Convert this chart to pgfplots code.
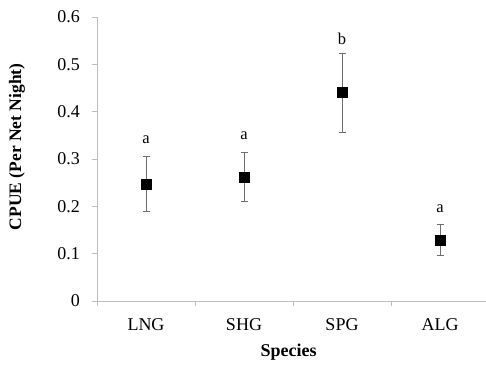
\documentclass[border=0pt]{standalone}
\usepackage{pgfplots}
\pgfplotsset{compat=1.18}
\usepackage{fontspec}
\setmainfont{Liberation Serif}
\definecolor{axgray}{RGB}{190,190,190}
\definecolor{errgray}{RGB}{110,110,110}
\begin{document}
\fontsize{18}{21}\selectfont
\begin{tikzpicture}
\begin{axis}[
  at={(0pt,0pt)}, anchor=south west,
  scale only axis,
  width=392pt, height=284pt,
  xmin=-0.5, xmax=3.5,
  ymin=0, ymax=0.6,
  ytick={0,0.1,...,0.6},
  yticklabels={0,0.1,0.2,0.3,0.4,0.5,0.6},
  xtick={0,1,2,3},
  xticklabels={LNG,SHG,SPG,ALG},
  minor xtick={-0.5,0.5,1.5,2.5,3.5},
  major x tick style={draw=none},
  minor x tick style={axgray, line width=0.8pt},
  minor tick length=5pt,
  major tick length=5pt,
  y tick style={axgray, line width=0.8pt},
  tick align=outside,
  axis lines*=left,
  axis line style={axgray, line width=0.8pt},
  ticklabel style={font=\fontsize{18}{21}\selectfont, text=black},
  /pgf/number format/assume math mode=true,
  xticklabel style={anchor=center, yshift=-19pt},
  yticklabel style={xshift=-6pt},
  xlabel={\textbf{Species}},
  ylabel={\textbf{CPUE (Per Net Night)}},
  xlabel style={font=\fontsize{18}{21}\selectfont, at={(axis description cs:0.489,-0.18)}, anchor=center},
  ylabel style={font=\fontsize{17.5}{21}\selectfont, at={(axis description cs:-0.204,0.543)}, anchor=center},
  clip=false,
]
\addplot[only marks, mark=square*, mark size=5pt, black,
  error bars/.cd, y dir=both, y explicit,
  error bar style={errgray, line width=0.7pt},
  error mark options={errgray, rotate=90, mark size=3.5pt, line width=0.7pt}]
coordinates {
  (0,0.246) += (0,0.059) -= (0,0.057)
  (1,0.262) += (0,0.052) -= (0,0.052)
  (2,0.441) += (0,0.082) -= (0,0.085)
  (3,0.129) += (0,0.032) -= (0,0.033)
};
\addplot[draw=none, mark=none, nodes near coords, point meta=explicit symbolic,
  nodes near coords style={anchor=center, font=\fontsize{16.5}{19}\selectfont, text=black}]
coordinates {
  (0,0.340) [a]
  (1,0.349) [a]
  (2,0.554) [b]
  (3,0.194) [a]
};
\end{axis}
\pgfresetboundingbox
\path (-97pt,-65pt) rectangle (389pt,301pt);
\end{tikzpicture}
\end{document}
